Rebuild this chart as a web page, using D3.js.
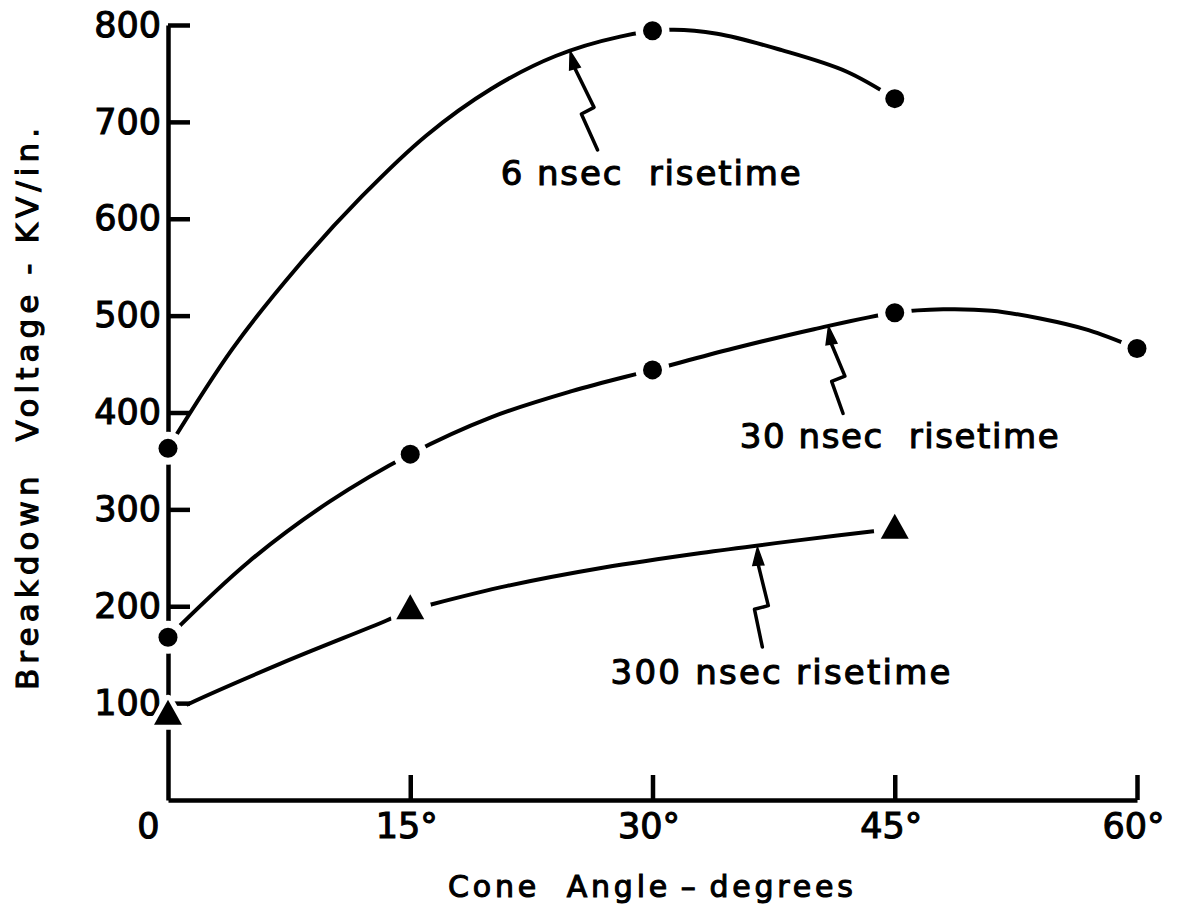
<!DOCTYPE html>
<meta charset="utf-8">
<style>
    body {
        margin: 0;
        background-color: #fff;
    }

    svg {
        font-family: "DejaVu Sans", sans-serif;
    }

    svg text {
        stroke: #000;
        stroke-width: 1.1px;
    }
</style>
<body>
<script src="https://cdn.jsdelivr.net/npm/d3@7"></script>
<script>

    // tick values / labels
    const xTicks = [0, 15, 30, 45, 60];
    const xTickLabels = ["0", "15°", "30°", "45°", "60°"];
    const yTicks = [100, 200, 300, 400, 500, 600, 700, 800];

    // measured points: [cone angle (deg), breakdown voltage (kV/in)]
    const pts6 = [[0, 363], [30, 794], [45, 724]];
    const pts30 = [[0, 168], [15, 357], [30, 444], [45, 503], [60, 466]];
    const pts300 = [[0, 88], [15, 197], [45, 280]];

    // hand drawn fitted curves
    const curve6 = [[0, 363], [4, 466], [8, 550], [12, 623], [16, 686], [20, 734], [24, 768],
        [28, 788], [31, 795], [34, 791], [38, 774], [42, 752], [45, 724]];
    const curve30 = [[0, 168], [5, 246], [10, 308], [15, 357], [20, 395], [25, 422], [30, 444],
        [35, 466], [40, 486], [45, 503], [48, 506.5], [51, 505], [54, 497], [57, 485], [60, 466]];
    const curve300 = [[0, 88], [1, 97], [7, 141], [13.5, 185], [15, 196], [16.1, 201], [21, 221],
        [27, 240], [33, 255], [39, 268], [45, 280]];

    const seriesLabels = ["6 nsec  risetime", "30 nsec  risetime", "300 nsec risetime"];

    const width = 1177, height = 919;

    const svg = d3.select('body')
        .append('svg')
        .attr('width', width)
        .attr('height', height);

    const x = d3.scaleLinear().domain([0, 60]).range([168, 1137]);
    const y = d3.scaleLinear().domain([0, 800]).range([800, 25]);

    const line = d3.line()
        .x(d => x(d[0]))
        .y(d => y(d[1]))
        .curve(d3.curveCatmullRom.alpha(0.5));

    // y axis, ticks pointing in
    const yAxis = svg.append('g')
        .attr('transform', 'translate(' + x(0) + ',0)')
        .call(d3.axisLeft(y).tickValues(yTicks).tickSizeInner(-22).tickSizeOuter(0).tickPadding(7));

    // x axis
    const xAxis = svg.append('g')
        .attr('transform', 'translate(0,' + y(0) + ')')
        .call(d3.axisBottom(x).tickValues(xTicks).tickFormat((d, i) => xTickLabels[i])
            .tickSizeInner(-25).tickSizeOuter(0).tickPadding(13));

    [yAxis, xAxis].forEach(a => {
        a.attr('font-family', null).attr('font-size', 35);
        a.selectAll('path, line').attr('stroke', '#000').attr('stroke-width', 4.5);
        a.selectAll('text').attr('fill', '#000');
    });
    xAxis.selectAll('.tick text').attr('dx', d => d === 0 ? -20 : -4);
    xAxis.selectAll('.tick line').filter(d => d === 0).remove();

    // gaps in the curves around the markers
    const allPts = pts6.concat(pts30).map(d => ({p: d, r: 17}))
        .concat(pts300.map(d => ({p: d, r: 21})));
    const mask = svg.append('defs').append('mask').attr('id', 'gaps');
    mask.append('rect').attr('width', width).attr('height', height).attr('fill', '#fff');
    mask.selectAll('circle').data(allPts).enter().append('circle')
        .attr('cx', d => x(d.p[0])).attr('cy', d => y(d.p[1])).attr('r', d => d.r)
        .attr('fill', '#000');

    svg.append('g')
        .attr('mask', 'url(#gaps)')
        .selectAll('path')
        .data([curve6, curve30, curve300])
        .enter().append('path')
        .attr('d', line)
        .attr('fill', 'none')
        .attr('stroke', '#000')
        .attr('stroke-width', 4)
        .attr('stroke-linecap', 'round');

    // markers, white stroke cuts the axis behind them
    svg.append('g').selectAll('circle')
        .data(pts6.concat(pts30))
        .enter().append('circle')
        .attr('cx', d => x(d[0]))
        .attr('cy', d => y(d[1]))
        .attr('r', 9.5)
        .attr('fill', '#000')
        .attr('stroke', '#fff')
        .attr('stroke-width', 14)
        .style('paint-order', 'stroke');

    const tri = 'M0,-15L14,10L-14,10Z';
    svg.append('g').selectAll('path')
        .data(pts300)
        .enter().append('path')
        .attr('transform', d => 'translate(' + x(d[0]) + ',' + y(d[1]) + ')')
        .attr('d', tri)
        .attr('fill', '#000')
        .attr('stroke', '#fff')
        .attr('stroke-width', 10)
        .attr('stroke-linejoin', 'round')
        .style('paint-order', 'stroke');

    // labels with zigzag arrows: label start, arrow tail, arrow tip (data units), label width
    const notes = [
        {text: seriesLabels[0], at: [20.6, 635], tail: [26.6, 671], tip: [24.9, 773], w: 300},
        {text: seriesLabels[1], at: [35.4, 363], tail: [41.8, 399], tip: [40.9, 489], w: 319},
        {text: seriesLabels[2], at: [27.4, 120], tail: [36.8, 158], tip: [36.5, 261], w: 340}
    ];

    function bolt(tail, tip) {
        const dx = tip[0] - tail[0], dy = tip[1] - tail[1], len = Math.hypot(dx, dy);
        const ux = dx / len, uy = dy / len, nx = -uy, ny = ux;
        const f = 0.38 * len;
        const k1 = [tail[0] + ux * f - nx * 6, tail[1] + uy * f - ny * 6];
        const k2 = [tail[0] + ux * (f + 3) + nx * 8, tail[1] + uy * (f + 3) + ny * 8];
        const base = [tip[0] - ux * 18, tip[1] - uy * 18];
        return {
            shaft: 'M' + tail + 'L' + k1 + 'L' + k2 + 'L' + base,
            head: 'M' + tip + 'L' + [base[0] + nx * 5.5, base[1] + ny * 5.5] +
                'L' + [base[0] - nx * 5.5, base[1] - ny * 5.5] + 'Z'
        };
    }

    const note = svg.append('g').selectAll('g')
        .data(notes)
        .enter().append('g');

    note.append('text')
        .attr('x', d => x(d.at[0]))
        .attr('y', d => y(d.at[1]))
        .attr('font-size', 34)
        .attr('textLength', d => d.w)
        .attr('lengthAdjust', 'spacing')
        .style('white-space', 'pre')
        .text(d => d.text);

    note.each(function (d) {
        const b = bolt([x(d.tail[0]), y(d.tail[1])], [x(d.tip[0]), y(d.tip[1])]);
        d3.select(this).append('path')
            .attr('d', b.shaft)
            .attr('fill', 'none')
            .attr('stroke', '#000')
            .attr('stroke-width', 3.5)
            .attr('stroke-linejoin', 'round')
            .attr('stroke-linecap', 'round');
        d3.select(this).append('path')
            .attr('d', b.head)
            .attr('fill', '#000')
            .attr('stroke', '#000')
            .attr('stroke-width', 1.5);
    });

    // axis titles
    svg.append('text')
        .attr('x', 448)
        .attr('y', 897)
        .attr('font-size', 30)
        .attr('textLength', 405)
        .attr('lengthAdjust', 'spacing')
        .style('white-space', 'pre')
        .text('Cone  Angle\u2009\u2013\u2009degrees');

    svg.append('text')
        .attr('transform', 'translate(38,409) rotate(-90)')
        .attr('text-anchor', 'middle')
        .attr('font-size', 31)
        .attr('textLength', 562)
        .attr('lengthAdjust', 'spacing')
        .style('white-space', 'pre')
        .text('Breakdown  Voltage - KV/in.');

</script>
</body>
</html>
